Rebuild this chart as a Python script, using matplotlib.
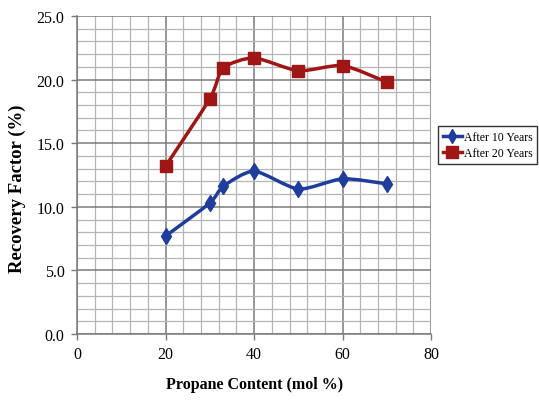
import matplotlib.pyplot as plt
from matplotlib.path import Path
from matplotlib.patches import PathPatch
from matplotlib.lines import Line2D
import numpy as np

propane = [20, 30, 33, 40, 50, 60, 70]
rf_10yr = [7.7, 10.3, 11.6, 12.8, 11.4, 12.2, 11.8]
rf_20yr = [13.2, 18.5, 20.9, 21.7, 20.7, 21.1, 19.8]

blue = '#1f3d9a'
red = '#9e1616'

plt.rcParams['font.family'] = ['Liberation Serif', 'DejaVu Serif']


def smooth_path(x, y, t=0.12):
    # bezier curve through the points, like a spreadsheet "smoothed line"
    x = np.asarray(x, float)
    y = np.asarray(y, float)
    verts = [(x[0], y[0])]
    codes = [Path.MOVETO]
    n = len(x)
    for i in range(n - 1):
        p0 = (x[max(i - 1, 0)], y[max(i - 1, 0)])
        p1 = (x[i], y[i])
        p2 = (x[i + 1], y[i + 1])
        p3 = (x[min(i + 2, n - 1)], y[min(i + 2, n - 1)])
        c1 = (p1[0] + (p2[0] - p0[0]) * t, p1[1] + (p2[1] - p0[1]) * t)
        c2 = (p2[0] - (p3[0] - p1[0]) * t, p2[1] - (p3[1] - p1[1]) * t)
        verts += [c1, c2, p2]
        codes += [Path.CURVE4] * 3
    return Path(verts, codes)


fig = plt.figure(figsize=(5.39, 4.06), dpi=100)
ax = fig.add_axes([0.143, 0.175, 0.657, 0.783])

ax.set_xlim(0, 80)
ax.set_ylim(0, 25)
ax.set_xticks(range(0, 81, 20))
ax.set_xticks(range(0, 81, 4), minor=True)
ax.set_yticks(np.arange(0, 25.1, 5))
ax.set_yticks(np.arange(0, 25.1, 1), minor=True)
ax.set_yticklabels([f'{v:.1f}' for v in np.arange(0, 25.1, 5)])

ax.grid(which='major', color='#7a7a7a', linewidth=1.1)
ax.grid(which='minor', color='#b5b5b5', linewidth=0.9)
ax.set_axisbelow(True)
ax.tick_params(which='minor', length=0)
ax.tick_params(which='major', length=4, width=1, color='#7a7a7a',
               labelsize=11.5, pad=5)
for side in ['top', 'right']:
    ax.spines[side].set_visible(False)
for side in ['left', 'bottom']:
    ax.spines[side].set_color('#7a7a7a')
    ax.spines[side].set_linewidth(1.1)

for ys, col, mk, ms in [(rf_10yr, blue, 'd', 8), (rf_20yr, red, 's', 9)]:
    ax.add_patch(PathPatch(smooth_path(propane, ys), facecolor='none',
                           edgecolor=col, linewidth=2.5, zorder=3))
    ax.plot(propane, ys, linestyle='none', marker=mk, markersize=ms,
            color=col, zorder=4)

handles = [Line2D([], [], color=blue, lw=2.5, marker='d', markersize=7),
           Line2D([], [], color=red, lw=2.5, marker='s', markersize=8)]
leg = ax.legend(handles, ['After 10 Years', 'After 20 Years'],
                loc='center left', bbox_to_anchor=(1.01, 0.595),
                fontsize=8.5, frameon=True, fancybox=False,
                edgecolor='black', handlelength=1.6, handletextpad=0.15,
                borderpad=0.4, borderaxespad=0.3, labelspacing=0.35)
leg.get_frame().set_linewidth(1.0)

ax.set_xlabel('Propane Content (mol %)', fontsize=11.5, fontweight='bold',
              labelpad=10)
ax.set_ylabel('Recovery Factor (%)', fontsize=13.5, fontweight='bold')
ax.yaxis.set_label_coords(-0.145, 0.46)

fig.savefig('out.png', dpi=100)
